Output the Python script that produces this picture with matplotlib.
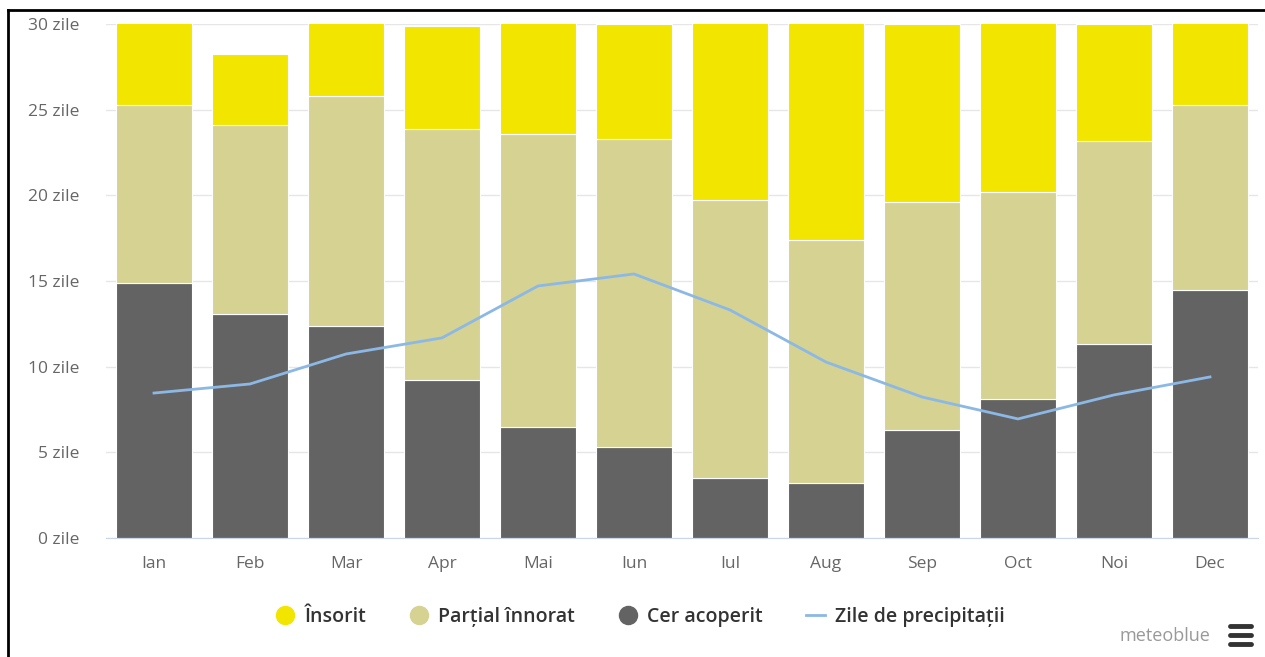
import matplotlib.pyplot as plt
from matplotlib.lines import Line2D
import numpy as np

plt.rcParams['font.family'] = ['Open Sans', 'DejaVu Sans']

# Data (days per month)
months = ['Ian', 'Feb', 'Mar', 'Apr', 'Mai', 'Iun', 'Iul', 'Aug', 'Sep', 'Oct', 'Noi', 'Dec']
overcast = [14.9, 13.1, 12.4, 9.2, 6.5, 5.3, 3.5, 3.2, 6.3, 8.1, 11.3, 14.5]
partly = [10.4, 11.0, 13.4, 14.7, 17.1, 18.0, 16.2, 14.2, 13.3, 12.1, 11.9, 10.8]
sunny = [5.7, 4.15, 5.2, 6.0, 7.4, 6.7, 11.3, 13.6, 10.4, 10.8, 6.8, 5.7]
precip = [8.46, 8.99, 10.74, 11.68, 14.71, 15.41, 13.31, 10.27, 8.23, 6.95, 8.35, 9.40]
yticks = [0, 5, 10, 15, 20, 25, 30]

c_sunny = '#f2e600'
c_partly = '#d6d291'
c_over = '#636363'
c_line = '#8cb8e6'

fig = plt.figure(figsize=(12.65, 6.57), dpi=100)
ax = fig.add_axes([106 / 1265, 1 - 538 / 657, (1258 - 106) / 1265, (538 - 24) / 657])

x = np.arange(len(months))
w = 0.79
ax.bar(x, overcast, w, color=c_over, edgecolor='white', linewidth=0.8, zorder=2)
ax.bar(x, partly, w, bottom=overcast, color=c_partly, edgecolor='white', linewidth=0.8, zorder=2)
bottom2 = np.array(overcast) + np.array(partly)
ax.bar(x, sunny, w, bottom=bottom2, color=c_sunny, edgecolor='white', linewidth=0.8, zorder=2)
ax.plot(x, precip, color=c_line, linewidth=2, zorder=3)

ax.set_xlim(-0.5, len(months) - 0.5)
ax.set_ylim(0, 30)
ax.set_yticks(yticks)
ax.set_yticklabels([f'{v} zile' for v in yticks])
ax.set_xticks(x)
ax.set_xticklabels(months)
ax.tick_params(axis='both', length=0, labelsize=12.5, labelcolor='#666666')
ax.tick_params(axis='y', pad=19)
ax.tick_params(axis='x', pad=13)
ax.grid(axis='y', color='#e6e6e6', linewidth=1, zorder=0)
for s in ['top', 'right', 'left']:
    ax.spines[s].set_visible(False)
ax.spines['bottom'].set_color('#ccd6eb')

# Legend
handles = [
    Line2D([], [], marker='o', linestyle='none', markersize=13, color=c_sunny),
    Line2D([], [], marker='o', linestyle='none', markersize=13, color=c_partly),
    Line2D([], [], marker='o', linestyle='none', markersize=13, color=c_over),
    Line2D([], [], color=c_line, linewidth=2),
]
labels = ['Însorit', 'Parțial înnorat', 'Cer acoperit', 'Zile de precipitații']
fig.legend(handles, labels, loc='center', bbox_to_anchor=(640 / 1265, 1 - 617 / 657), ncol=4,
           frameon=False, handlelength=1.0, handletextpad=0.5, columnspacing=2.2,
           prop={'family': 'Open Sans', 'size': 14, 'weight': 'semibold'},
           labelcolor='#333333')

# Credits and menu icon
fig.text(1210 / 1265, 1 - 636 / 657, 'meteoblue', ha='right', va='center',
         fontsize=13, color='#999999')
for yy in [626, 635, 644]:
    fig.add_artist(Line2D([1230 / 1265, 1251 / 1265], [1 - yy / 657, 1 - yy / 657],
                          color='#333333', linewidth=3.5, solid_capstyle='round'))

# Frame lines of the screenshot
fig.add_artist(Line2D([8 / 1265, 1], [1 - 10 / 657, 1 - 10 / 657], color='black', linewidth=2))
fig.add_artist(Line2D([8 / 1265, 8 / 1265], [0, 1 - 10 / 657], color='black', linewidth=2))

fig.savefig('out.png', dpi=100)
